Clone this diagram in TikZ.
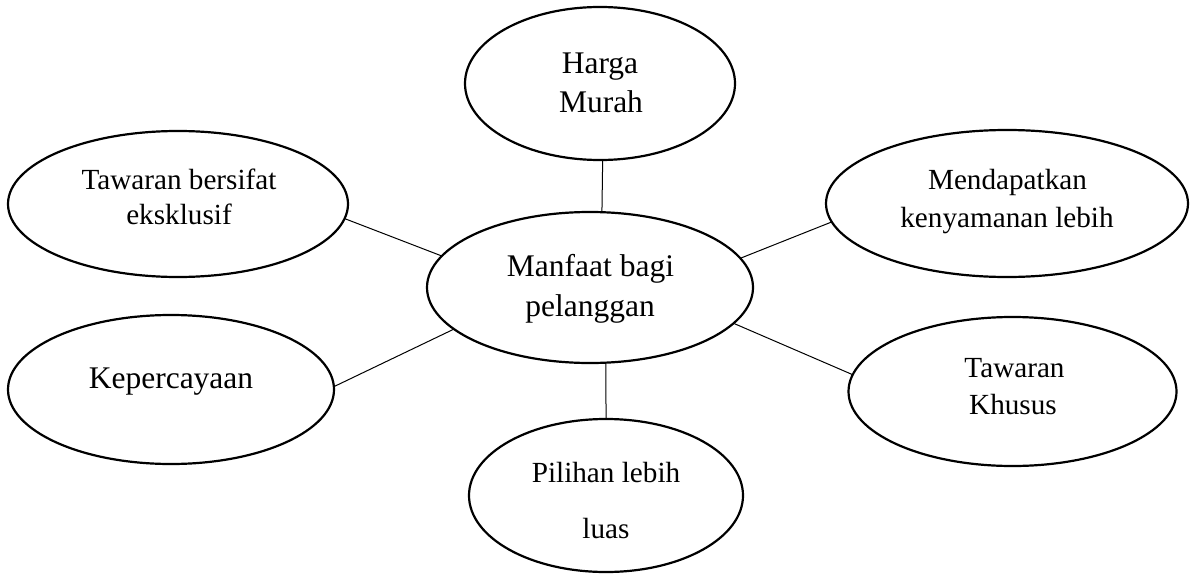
\documentclass[tikz,border=0pt]{standalone}
\usepackage{fontspec}
\setmainfont{Liberation Serif}
\usetikzlibrary{shapes.geometric}
\begin{document}
\begin{tikzpicture}[x=1pt,y=-1pt,
  oval/.style={draw=black,ellipse,line width=2.2pt,inner sep=0pt,outer sep=0pt},
  link/.style={draw=black,line width=1pt},
  bigtxt/.style={anchor=base,inner sep=0pt,font=\fontsize{31.5}{38}\selectfont},
  smalltxt/.style={anchor=base,inner sep=0pt,font=\fontsize{29.2}{35}\selectfont}]
\useasboundingbox[fill=white] (0,0) rectangle (1198,575);
% ellipses
\node[oval,minimum width=270pt,minimum height=153pt] (harga) at (600,83.5) {};
\node[oval,minimum width=326pt,minimum height=151pt] (main) at (590,287.5) {};
\node[oval,minimum width=340pt,minimum height=146pt] (tbe) at (178,204) {};
\node[oval,minimum width=326pt,minimum height=149pt] (kep) at (171,389.5) {};
\node[oval,minimum width=362pt,minimum height=147pt] (mend) at (1007,203.5) {};
\node[oval,minimum width=328pt,minimum height=149pt] (tk) at (1012.5,391.5) {};
\node[oval,minimum width=274pt,minimum height=153pt] (pil) at (606,495.5) {};
% connectors
\draw[link] (harga.-88.5) -- (main.81);
\draw[link] (main.-78.8) -- (pil.90.7);
\draw[link] (tbe.-5.47) -- (main.168.9);
\draw[link] (kep.1.93) -- (main.197.7);
\draw[link] (main.11.5) -- (mend.186.3);
\draw[link] (main.-14.3) -- (tk.174.8);
% texts
\node[bigtxt] (t1a) at (600,74) {Harga};
\node[bigtxt] (t1b) at (601,113) {Murah};
\node[bigtxt] (t2a) at (590.5,276) {Manfaat bagi};
\node[bigtxt] (t2b) at (590,316) {pelanggan};
\node[smalltxt] (t3a) at (179,189) {Tawaran bersifat};
\node[smalltxt] (t3b) at (179,224) {eksklusif};
\node[bigtxt] (t4) at (171,388) {Kepercayaan};
\node[smalltxt] (t5a) at (1007.5,189) {Mendapatkan};
\node[smalltxt] (t5b) at (1007,227) {kenyamanan lebih};
\node[smalltxt] (t6a) at (1014.5,377) {Tawaran};
\node[smalltxt] (t6b) at (1013,414) {Khusus};
\node[smalltxt] (t7a) at (606,482) {Pilihan lebih};
\node[smalltxt] (t7b) at (606,538) {luas};
\end{tikzpicture}
\end{document}
